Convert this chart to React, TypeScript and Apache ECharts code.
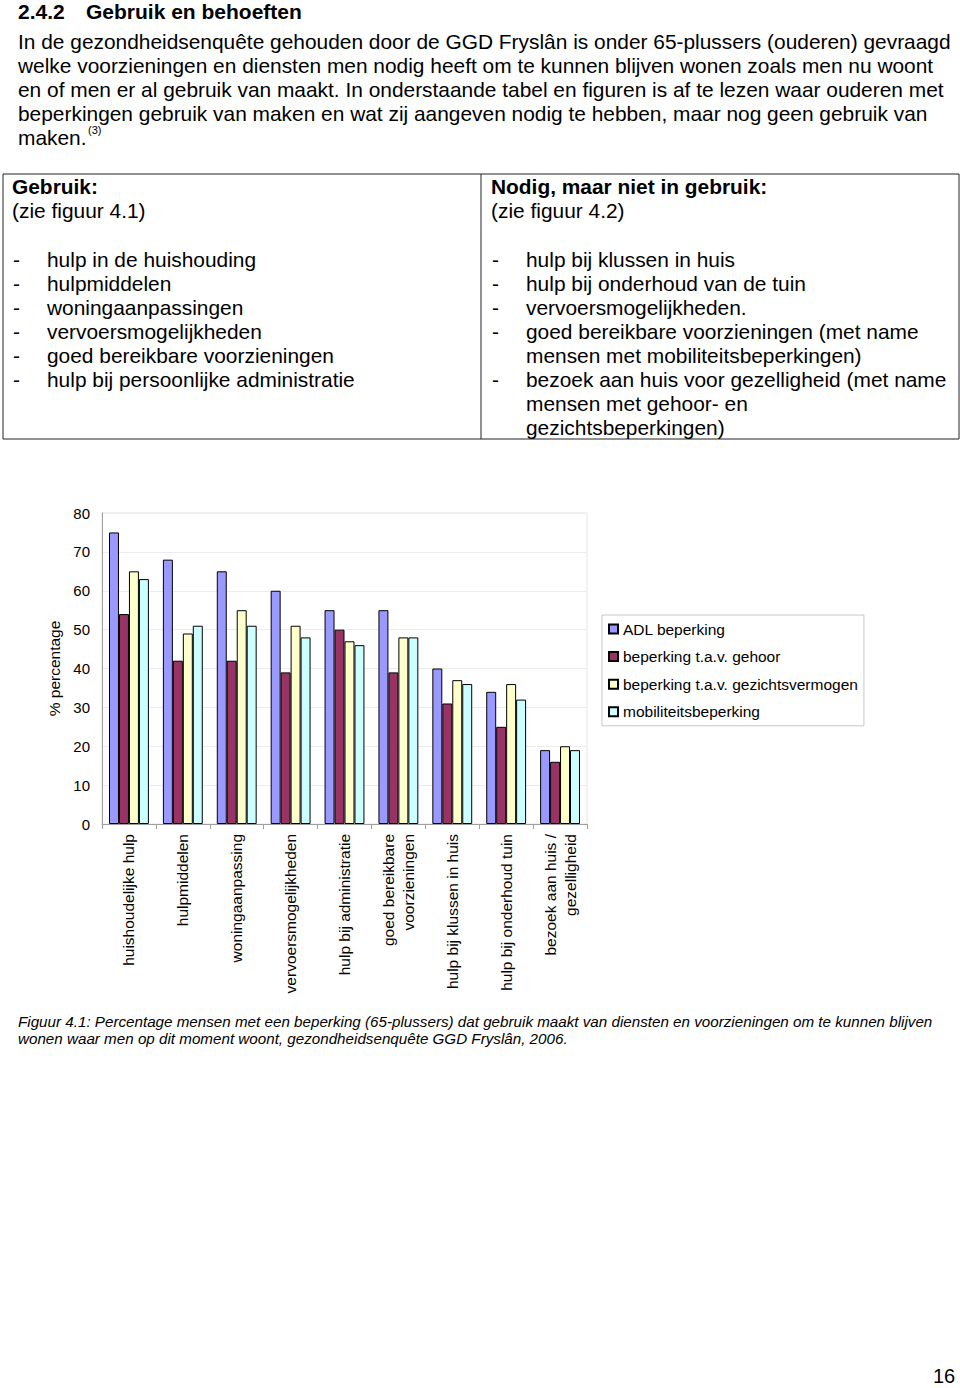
import React, { useEffect, useRef } from "react";
import * as echarts from "echarts";

const categories = [
  "huishoudelijke hulp",
  "hulpmiddelen",
  "woningaanpassing",
  "vervoersmogelijkheden",
  "hulp bij administratie",
  "goed bereikbare\nvoorzieningen",
  "hulp bij klussen in huis",
  "hulp bij onderhoud tuin",
  "bezoek aan huis /\ngezelligheid",
];
const seriesNames = [
  "ADL beperking",
  "beperking t.a.v. gehoor",
  "beperking t.a.v. gezichtsvermogen",
  "mobiliteitsbeperking",
];
const adl = [75, 68, 65, 60, 55, 55, 40, 34, 19];
const gehoor = [54, 42, 42, 39, 50, 39, 31, 25, 16];
const gezicht = [65, 49, 55, 51, 47, 48, 37, 36, 20];
const mobiliteit = [63, 51, 51, 48, 46, 48, 36, 32, 19];
const seriesColors = ["#9999FF", "#993366", "#FFFFCC", "#CCFFFF"];
const yTicks = { min: 0, max: 80, interval: 10 };

const headingNumber = "2.4.2";
const headingText = "Gebruik en behoeften";
const paragraphLines = [
  "In de gezondheidsenquête gehouden door de GGD Fryslân is onder 65-plussers (ouderen) gevraagd",
  "welke voorzieningen en diensten men nodig heeft om te kunnen blijven wonen zoals men nu woont",
  "en of men er al gebruik van maakt. In onderstaande tabel en figuren is af te lezen waar ouderen met",
  "beperkingen gebruik van maken en wat zij aangeven nodig te hebben, maar nog geen gebruik van",
  "maken.",
];
const leftHeader = "Gebruik:";
const leftSub = "(zie figuur 4.1)";
const leftItems = [
  "hulp in de huishouding",
  "hulpmiddelen",
  "woningaanpassingen",
  "vervoersmogelijkheden",
  "goed bereikbare voorzieningen",
  "hulp bij persoonlijke administratie",
];
const rightHeader = "Nodig, maar niet in gebruik:";
const rightSub = "(zie figuur 4.2)";
const rightItems = [
  ["hulp bij klussen in huis"],
  ["hulp bij onderhoud van de tuin"],
  ["vervoersmogelijkheden."],
  ["goed bereikbare voorzieningen (met name", "mensen met mobiliteitsbeperkingen)"],
  ["bezoek aan huis voor gezelligheid (met name", "mensen met gehoor- en", "gezichtsbeperkingen)"],
];
const captionLines = [
  "Figuur 4.1: Percentage mensen met een beperking (65-plussers) dat gebruik maakt van diensten en voorzieningen om te kunnen blijven",
  "wonen waar men op dit moment woont, gezondheidsenquête GGD Fryslân, 2006.",
];
const pageNumber = "16";

const FONT = "'Liberation Sans', Arial, Helvetica, sans-serif";
const BODY = 20.9;

function txt(text: string, x: number, y: number, size: number, extra: any = {}) {
  return {
    type: "text",
    x,
    y,
    silent: true,
    style: {
      text,
      fontFamily: FONT,
      fontSize: size,
      fill: "#000",
      verticalAlign: "middle",
      align: "left",
      ...extra,
    },
  };
}

export default function App() {
  const ref = useRef<HTMLDivElement>(null);
  useEffect(() => {
    if (!ref.current) return;
    const chart = echarts.init(ref.current, undefined, { renderer: "svg" });
    const graphic: any[] = [];
    graphic.push(txt(headingNumber, 18, 11, 21, { fontWeight: "bold" }));
    graphic.push(txt(headingText, 86, 11, 21, { fontWeight: "bold" }));
    paragraphLines.forEach((l, i) => graphic.push(txt(l, 18, 41 + i * 24, BODY)));
    graphic.push(txt("(3)", 88, 130, 11));
    // table
    graphic.push({
      type: "rect",
      silent: true,
      shape: { x: 3, y: 174, width: 956, height: 265 },
      style: { fill: "none", stroke: "#222", lineWidth: 1 },
    });
    graphic.push({
      type: "line",
      silent: true,
      shape: { x1: 481, y1: 174, x2: 481, y2: 439 },
      style: { stroke: "#222", lineWidth: 1 },
    });
    graphic.push(txt(leftHeader, 12, 186, BODY, { fontWeight: "bold" }));
    graphic.push(txt(leftSub, 12, 210, BODY));
    leftItems.forEach((l, i) => {
      graphic.push(txt("-", 13, 259 + i * 24, BODY));
      graphic.push(txt(l, 47, 259 + i * 24, BODY));
    });
    graphic.push(txt(rightHeader, 491, 186, BODY, { fontWeight: "bold" }));
    graphic.push(txt(rightSub, 491, 210, BODY));
    let row = 0;
    rightItems.forEach((item) => {
      graphic.push(txt("-", 492, 259 + row * 24, BODY));
      item.forEach((l) => {
        graphic.push(txt(l, 526, 259 + row * 24, BODY));
        row++;
      });
    });
    captionLines.forEach((l, i) =>
      graphic.push(txt(l, 18, 1021 + i * 17, 15.2, { fontStyle: "italic" }))
    );
    graphic.push(txt(pageNumber, 933, 1376, 20));

    const values = [adl, gehoor, gezicht, mobiliteit];
    chart.setOption({
      animation: false,
      backgroundColor: "#fff",
      textStyle: { fontFamily: FONT },
      grid: {
        left: 102,
        right: 373,
        top: 513,
        bottom: 564,
        show: true,
        borderColor: "#e4e4e4",
        borderWidth: 1,
      },
      legend: {
        orient: "vertical",
        left: 602,
        top: 615,
        padding: [6, 6, 6, 6],
        itemGap: 11.6,
        itemWidth: 9,
        itemHeight: 9,
        icon: "rect",
        borderColor: "#c8c8c8",
        borderWidth: 1,
        textStyle: { fontSize: 15.5, lineHeight: 14, color: "#000", fontFamily: FONT },
        data: seriesNames,
      },
      xAxis: {
        type: "category",
        data: categories,
        axisLine: { lineStyle: { color: "#a0a0a0" } },
        axisTick: { show: true, interval: 0, length: 5, lineStyle: { color: "#a0a0a0" } },
        axisLabel: {
          interval: 0,
          rotate: 90,
          fontSize: 15.5,
          color: "#000",
          margin: 10,
          lineHeight: 20,
        },
      },
      yAxis: {
        type: "value",
        min: yTicks.min,
        max: yTicks.max,
        interval: yTicks.interval,
        name: "% percentage",
        nameLocation: "middle",
        nameGap: 40,
        nameTextStyle: { fontSize: 15.5, color: "#000" },
        axisLine: { show: true, lineStyle: { color: "#a0a0a0" } },
        axisTick: { show: false },
        axisLabel: { fontSize: 15, color: "#000", margin: 12 },
        splitLine: { lineStyle: { color: "#ececec" } },
      },
      series: seriesNames.map((name, i) => ({
        name,
        type: "bar",
        data: values[i],
        barGap: "0%",
        barCategoryGap: "26%",
        itemStyle: { color: seriesColors[i], borderColor: "#000", borderWidth: 1 },
      })),
      graphic,
    });
    return () => chart.dispose();
  }, []);
  return (
    <div
      ref={ref}
      style={{ position: "absolute", left: 0, top: 0, width: 960, height: 1388, background: "#fff" }}
    />
  );
}
